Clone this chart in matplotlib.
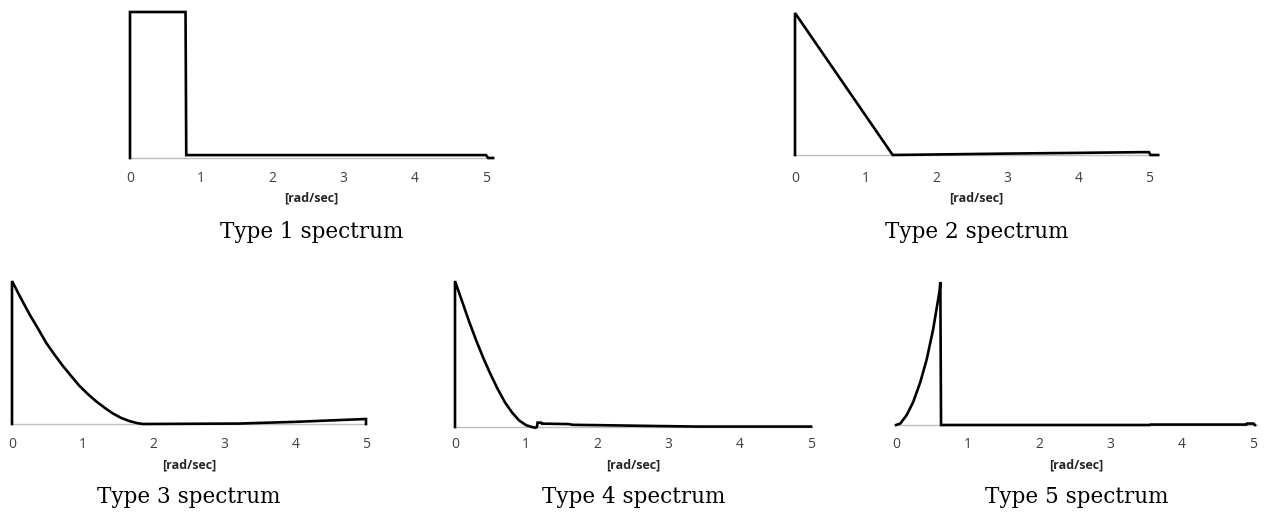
import matplotlib
matplotlib.use("Agg")
import matplotlib.pyplot as plt

# ---- data (normalised spectral amplitude vs frequency [rad/sec]) ----
t1_x = [0, 0, 0.78, 0.79, 5.0, 5.03, 5.1]
t1_y = [0, 1.0, 1.0, 0.02, 0.02, 0.0, 0.0]

t2_x = [0, 0, 1.38, 2.2, 3.0, 4.0, 4.9, 5.0, 5.02, 5.13]
t2_y = [0, 1.0, 0.0, 0.005, 0.01, 0.015, 0.02, 0.02, 0.0, 0.0]

t3_x = [0, 0, 0.13, 0.25, 0.37, 0.48, 0.60, 0.72, 0.84, 0.95, 1.07, 1.19, 1.31,
        1.42, 1.54, 1.66, 1.78, 1.85, 3.2, 4.0, 4.5, 5.0, 5.0]
t3_y = [0, 1.0, 0.875, 0.765, 0.665, 0.57, 0.485, 0.405, 0.333, 0.268, 0.21, 0.158, 0.113,
        0.075, 0.043, 0.02, 0.005, 0.0, 0.003, 0.015, 0.025, 0.035, 0.0]

t4_x = [0, 0, 0.1, 0.2, 0.3, 0.4, 0.5, 0.6, 0.7, 0.8, 0.9, 1.0, 1.08, 1.13,
        1.15, 1.16, 1.21, 1.22, 1.6, 1.65, 2.1, 2.65, 3.4, 5.0]
t4_y = [0, 1.0, 0.86, 0.72, 0.59, 0.47, 0.36, 0.26, 0.17, 0.10, 0.045, 0.012, 0.0, -0.005,
        0.0, 0.03, 0.03, 0.023, 0.02, 0.015, 0.012, 0.008, 0.003, 0.003]

t5_x = [0.0, 0.06, 0.15, 0.24, 0.34, 0.43, 0.52, 0.61, 0.62, 0.63, 3.55, 3.56, 4.9, 4.91, 5.0, 5.02]
t5_y = [0.0, 0.01, 0.07, 0.16, 0.30, 0.46, 0.67, 0.94, 1.0, 0.0, 0.0, 0.003, 0.003, 0.01, 0.01, 0.0]

series = [(t1_x, t1_y), (t2_x, t2_y), (t3_x, t3_y), (t4_x, t4_y), (t5_x, t5_y)]
titles = ["Type 1 spectrum", "Type 2 spectrum", "Type 3 spectrum",
          "Type 4 spectrum", "Type 5 spectrum"]
xlabel = "[rad/sec]"
xticks = [0, 1, 2, 3, 4, 5]

# ---- layout (pixels): left of x=0, px per unit, x max, baseline y, top y, text row ----
W, H = 1266, 514
layout = [
    (130, 71.2, 5.1, 158, 12, 0),
    (795, 70.8, 5.13, 155, 13, 0),
    (12, 70.8, 5.0, 424, 281, 1),
    (455, 71.2, 5.02, 427, 281, 1),
    (896, 71.5, 5.05, 425, 282, 1),
]
tick_y = [179, 444]
lab_y = [198, 465]
title_y = [232, 497]

fig = plt.figure(figsize=(W / 100, H / 100), dpi=100)
for (xs, ys), title, (lx, ppu, xmax, by, ty, row) in zip(series, titles, layout):
    wpx = ppu * xmax
    ax = fig.add_axes([lx / W, (H - by) / H, wpx / W, (by - ty) / H])
    ax.plot(xs, ys, color="black", lw=1.9, clip_on=False, solid_joinstyle="miter", zorder=3)
    ax.set_xlim(0, xmax)
    ax.set_ylim(0, 1.0)
    for s in ["top", "right", "left"]:
        ax.spines[s].set_visible(False)
    ax.spines["bottom"].set_color("#bfbfbf")
    ax.spines["bottom"].set_linewidth(1.0)
    ax.set_yticks([])
    ax.set_xticks(xticks)
    ax.set_xticklabels([])
    ax.tick_params(axis="x", length=0)
    for t in xticks:
        fig.text((lx + ppu * t) / W, (H - tick_y[row]) / H, str(t), ha="center", va="center",
                 fontsize=10, family="Open Sans", color="#404040")
    cx = (lx + wpx / 2) / W
    fig.text(cx, (H - lab_y[row]) / H, xlabel, ha="center", va="center",
             fontsize=9, fontweight="bold", family="Open Sans", color="#262626")
    fig.text(cx, (H - title_y[row]) / H, title, ha="center", va="center",
             fontsize=15.5, family="DejaVu Serif", color="black")

fig.savefig("out.png", dpi=100, facecolor="white")
